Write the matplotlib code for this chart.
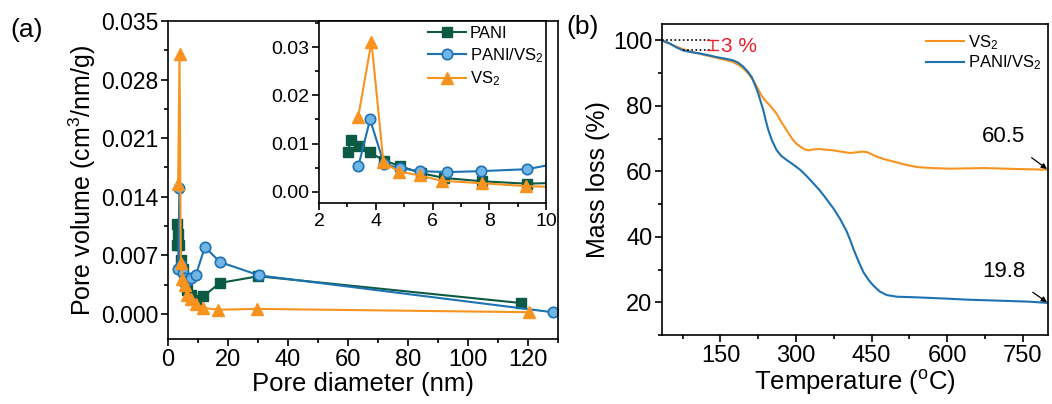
import matplotlib
matplotlib.use("Agg")
import matplotlib.pyplot as plt
from matplotlib.ticker import MultipleLocator

plt.rcParams['font.family'] = ['Liberation Sans', 'DejaVu Sans']
plt.rcParams['mathtext.fontset'] = 'custom'
plt.rcParams['mathtext.rm'] = 'Liberation Sans'
plt.rcParams['mathtext.it'] = 'Liberation Sans'

# ---- (a) pore size distribution ----
pani_d = [3.02, 3.12, 3.40, 3.79, 4.29, 4.84, 5.58, 6.40, 7.74, 9.33, 11.8, 17.3, 30.1, 117.6]
pani_v = [0.0082, 0.0108, 0.0095, 0.0082, 0.0065, 0.0054, 0.0039, 0.0029, 0.0022, 0.0017,
          0.0021, 0.0037, 0.0045, 0.0013]

pvs_d = [3.39, 3.80, 4.29, 4.84, 5.57, 6.52, 7.70, 9.33, 12.3, 17.3, 30.4, 128.2]
pvs_v = [0.0054, 0.0150, 0.0058, 0.0049, 0.0043, 0.0041, 0.0043, 0.0047, 0.0080, 0.0062,
         0.0046, 0.0002]

vs2_d = [3.38, 3.85, 4.27, 4.83, 5.56, 6.32, 7.73, 9.31, 11.8, 16.8, 29.6, 120.4]
vs2_v = [0.0155, 0.0311, 0.0061, 0.0042, 0.0034, 0.0023, 0.0018, 0.0012, 0.0007, 0.0005,
         0.0006, 0.0002]

# ---- (b) thermogravimetric curves ----
temp_pvs = [34, 50, 62, 76, 92, 109, 125, 142, 160, 175, 185, 195, 205, 212, 218, 225, 230,
            235, 240, 245, 252, 261, 270, 281, 295, 308, 320, 334, 348, 361, 375, 388, 400,
            407, 414, 424, 434, 444, 454, 466, 480, 500, 540, 600, 639, 700, 760, 800]
mass_pvs = [100.0, 99.0, 97.9, 96.9, 96.4, 96.0, 95.5, 94.9, 94.4, 93.9, 93.2, 92.0, 90.3,
            88.8, 86.6, 83.8, 81.2, 78.7, 75.5, 72.6, 69.5, 66.6, 64.8, 63.5, 62.0, 60.5,
            58.7, 56.4, 54.0, 51.4, 48.5, 45.3, 41.8, 39.2, 36.2, 32.5, 29.1, 26.8, 25.0,
            23.3, 22.2, 21.7, 21.5, 21.1, 20.8, 20.5, 20.2, 19.8]

temp_vs2 = [34, 50, 62, 76, 92, 109, 125, 142, 160, 175, 190, 199, 207, 215, 225, 232, 239,
            250, 261, 270, 281, 292, 300, 308, 316, 324, 335, 347, 360, 374, 390, 407, 420,
            430, 440, 450, 460, 475, 493, 515, 540, 570, 606, 640, 672, 740, 800]
mass_vs2 = [100.0, 98.9, 98.1, 97.3, 96.5, 95.9, 95.3, 94.7, 94.0, 93.4, 92.1, 90.9, 89.5,
            87.8, 85.0, 83.0, 81.6, 79.8, 77.7, 75.3, 72.6, 70.0, 68.5, 67.6, 66.8, 66.4,
            66.7, 66.8, 66.6, 66.4, 66.0, 65.6, 65.8, 66.0, 65.9, 65.2, 64.5, 63.7, 63.0,
            62.1, 61.3, 61.0, 60.8, 60.9, 61.0, 60.7, 60.5]

c_pani = '#0c5a44'
c_pvs = '#1c72b2'
c_vs2 = '#f7931e'
c_pvs_face = '#6fb6e6'
c_red = '#e8202a'

W, H = 1052, 404
fig = plt.figure(figsize=(W / 100, H / 100), dpi=100)


def px_axes(left, top, right, bottom):
    return fig.add_axes([left / W, 1 - bottom / H, (right - left) / W, (bottom - top) / H])


def style_axes(ax, lab=14):
    for s in ax.spines.values():
        s.set_linewidth(1.2)
    ax.tick_params(which='both', direction='out', top=False, right=False, width=1.2)
    ax.tick_params(which='major', length=5, labelsize=lab, pad=2)
    ax.tick_params(which='minor', length=3)


ax1 = px_axes(168, 21, 558, 339)
style_axes(ax1, 17)
ax1.tick_params(axis='y', labelsize=16.5)

mk = dict(lw=1.5)
ax1.plot(pani_d, pani_v, color=c_pani, marker='s', ms=7, **mk)
ax1.plot(pvs_d, pvs_v, color=c_pvs, marker='o', ms=7.5, mfc=c_pvs_face, mec=c_pvs, mew=1.2, **mk)
ax1.plot(vs2_d, vs2_v, color=c_vs2, marker='^', ms=8.5, **mk)
ax1.set_xlim(0, 130)
ax1.set_ylim(-0.003, 0.035)
ax1.xaxis.set_major_locator(MultipleLocator(20))
ax1.xaxis.set_minor_locator(MultipleLocator(10))
ax1.yaxis.set_minor_locator(MultipleLocator(0.0035))
ax1.set_yticks([0.0, 0.007, 0.014, 0.021, 0.028, 0.035])
ax1.set_yticklabels(['0.000', '0.007', '0.014', '0.021', '0.028', '0.035'])
ax1.set_xlabel('Pore diameter (nm)', fontsize=18.5, labelpad=1)
ax1.set_ylabel('Pore volume (cm$^3$/nm/g)', fontsize=18, labelpad=2)
fig.text(10 / W, 1 - 30 / H, '(a)', fontsize=19, va='center', ha='left')

# inset zoom of the small-pore region
ins = px_axes(319, 21, 546, 203)
style_axes(ins, 14)
ins.plot(pani_d, pani_v, color=c_pani, marker='s', ms=6.5, label='PANI', **mk)
ins.plot(pvs_d, pvs_v, color=c_pvs, marker='o', ms=7.5, mfc=c_pvs_face, mec=c_pvs, mew=1.2,
         label='PANI/VS$_2$', **mk)
ins.plot(vs2_d, vs2_v, color=c_vs2, marker='^', ms=8.5, label='VS$_2$', **mk)
ins.set_xlim(2, 10)
ins.set_ylim(-0.0023, 0.0354)
ins.xaxis.set_major_locator(MultipleLocator(2))
ins.xaxis.set_minor_locator(MultipleLocator(1))
ins.yaxis.set_minor_locator(MultipleLocator(0.005))
ins.set_yticks([0.0, 0.01, 0.02, 0.03])
ins.set_yticklabels(['0.00', '0.01', '0.02', '0.03'])
ins.legend(loc='upper left', frameon=False, fontsize=12, handlelength=2.3,
           handletextpad=0.2, labelspacing=0.3, borderaxespad=0, borderpad=0,
           bbox_to_anchor=(428 / W, 1 - 26 / H), bbox_transform=fig.transFigure)

# ---- (b) ----
ax2 = px_axes(662, 24, 1048, 335)
style_axes(ax2, 17)
ax2.plot(temp_vs2, mass_vs2, color=c_vs2, lw=1.5, label='VS$_2$')
ax2.plot(temp_pvs, mass_pvs, color=c_pvs, lw=1.5, label='PANI/VS$_2$')
ax2.set_xlim(34, 800)
ax2.set_ylim(10, 105)
ax2.set_xticks([150, 300, 450, 600, 750])
ax2.xaxis.set_minor_locator(MultipleLocator(75))
ax2.set_yticks([20, 40, 60, 80, 100])
ax2.yaxis.set_minor_locator(MultipleLocator(10))
ax2.set_xlabel('Temperature ($^{\\rm o}$C)', fontsize=18.5, labelpad=1)
ax2.set_ylabel('Mass loss (%)', fontsize=18, labelpad=2)
ax2.legend(loc='upper left', frameon=False, fontsize=12, handlelength=2.3,
           handletextpad=0.2, labelspacing=0.12, borderaxespad=0, borderpad=0,
           bbox_to_anchor=(926 / W, 1 - 33 / H), bbox_transform=fig.transFigure)
fig.text(566 / W, 1 - 27 / H, '(b)', fontsize=19, va='center', ha='left')

# 3 % initial loss marker
ax2.plot([34, 129], [100, 100], color='black', ls=(0, (1, 1.5)), lw=1.2)
ax2.plot([75, 129], [97, 97], color='black', ls=(0, (1, 1.5)), lw=1.2)
ax2.annotate('', xy=(135, 100), xytext=(135, 97),
             arrowprops=dict(arrowstyle='|-|,widthA=0.5,widthB=0.5',
                             color=c_red, lw=1.0, mutation_scale=8,
                             shrinkA=0, shrinkB=0))
ax2.text(152, 98.0, '3 %', color=c_red, fontsize=15, va='center', ha='left')

# residual mass labels
ax2.annotate('60.5', xy=(798, 60.7), xytext=(712, 70.5), fontsize=16, ha='center',
             va='center', arrowprops=dict(arrowstyle='-|>', color='black', lw=0.9,
                                          mutation_scale=8, shrinkA=9, shrinkB=0))
ax2.annotate('19.8', xy=(798, 20.0), xytext=(712, 29.3), fontsize=16, ha='center',
             va='center', arrowprops=dict(arrowstyle='-|>', color='black', lw=0.9,
                                          mutation_scale=8, shrinkA=9, shrinkB=0))

fig.savefig('out.png', dpi=100)
